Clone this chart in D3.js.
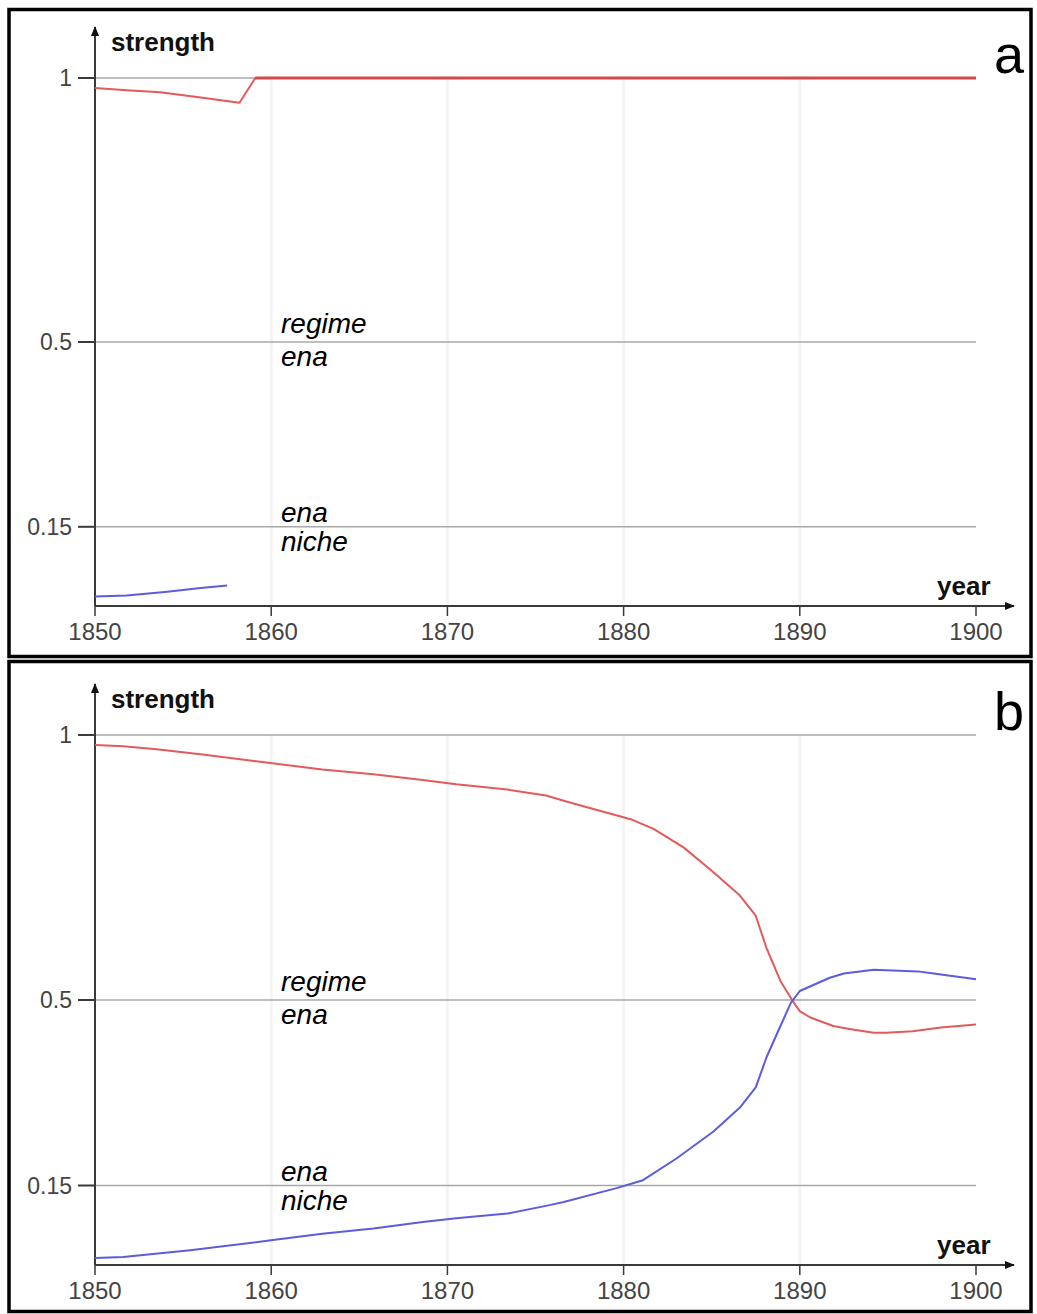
<!DOCTYPE html>
<html>
<head>
<meta charset="utf-8">
<script src="https://cdn.jsdelivr.net/npm/d3@7"></script>
<style>
  html, body { margin: 0; padding: 0; background: #fff; }
  svg { display: block; }
  text { font-family: "Liberation Sans", Arial, sans-serif; }
</style>
</head>
<body>
<script>
// ---------- data ----------
const xTicks = [1850, 1860, 1870, 1880, 1890, 1900];
const xGridYears = [1860, 1870, 1880, 1890];
const yTicks = [0.15, 0.5, 1];
const yTickLabels = ["0.15", "0.5", "1"];
const panelLetters = ["a", "b"];

// panel a
const aRegimeYears  = [1850, 1851.8, 1853.7, 1856.0, 1858.2, 1859.1, 1870, 1880, 1890, 1900];
const aRegimeValues = [0.981, 0.977, 0.973, 0.963, 0.953, 1.0, 1.0, 1.0, 1.0, 1.0];
const aNicheYears   = [1850, 1851.8, 1854.1, 1856.0, 1857.5];
const aNicheValues  = [0.018, 0.020, 0.027, 0.034, 0.039];

// panel b
const bRegimeYears  = [1850, 1851.6, 1853.5, 1856.1, 1859.5, 1862.9, 1865.8, 1868.6, 1870.5, 1873.4, 1875.6,
                       1876.8, 1880.5, 1881.7, 1883.4, 1885.1, 1886.6, 1887.5, 1888.1, 1888.9, 1889.6,
                       1890.0, 1890.6, 1891.9, 1892.9, 1894.2, 1894.9, 1896.4, 1898.0, 1900];
const bRegimeValues = [0.981, 0.979, 0.973, 0.963, 0.949, 0.935, 0.926, 0.915, 0.907, 0.897, 0.886,
                       0.874, 0.840, 0.823, 0.788, 0.741, 0.697, 0.659, 0.599, 0.536, 0.498,
                       0.479, 0.467, 0.451, 0.445, 0.438, 0.438, 0.441, 0.448, 0.454];
const bNicheYears   = [1850, 1851.6, 1855.4, 1860.1, 1862.9, 1865.8, 1868.6, 1870.5, 1873.4, 1875.8,
                       1876.6, 1879.6, 1881.1, 1883.0, 1885.1, 1886.6, 1887.5, 1888.1, 1888.9, 1889.5,
                       1890.0, 1891.7, 1892.5, 1894.2, 1896.7, 1897.6, 1900];
const bNicheValues  = [0.013, 0.015, 0.028, 0.047, 0.059, 0.069, 0.081, 0.088, 0.097, 0.113,
                       0.119, 0.145, 0.160, 0.201, 0.252, 0.297, 0.335, 0.391, 0.451, 0.495,
                       0.517, 0.542, 0.550, 0.557, 0.554, 0.550, 0.539];

// ---------- drawing ----------
const W = 1037, H = 1314;
const svg = d3.select("body").append("svg").attr("width", W).attr("height", H);

const RED = "#e35a5a", BLUE = "#5c5ce0";
const AX = "#3a3a3a";

const x = d3.scaleLinear().domain([1850, 1900]).range([95, 976]);

const panels = [
  { box: [9, 9.5, 1031, 656.5], y0: 606, y1: 78,
    regime: [aRegimeYears, aRegimeValues], niche: [aNicheYears, aNicheValues] },
  { box: [9, 661.5, 1031, 1311.5], y0: 1265, y1: 735,
    regime: [bRegimeYears, bRegimeValues], niche: [bNicheYears, bNicheValues] }
];

const defs = svg.append("defs");
defs.append("marker").attr("id", "arrow")
  .attr("viewBox", "0 0 10 10").attr("refX", 9).attr("refY", 5)
  .attr("markerWidth", 10).attr("markerHeight", 10).attr("markerUnits", "userSpaceOnUse")
  .attr("orient", "auto")
  .append("path").attr("d", "M0,1 L10,5 L0,9 Z").attr("fill", "#111");

panels.forEach((p, i) => {
  const g = svg.append("g");
  const y = d3.scaleLinear().domain([0, 1]).range([p.y0, p.y1]);

  // frame
  g.append("rect")
    .attr("x", p.box[0]).attr("y", p.box[1])
    .attr("width", p.box[2] - p.box[0]).attr("height", p.box[3] - p.box[1])
    .attr("fill", "#fff").attr("stroke", "#000").attr("stroke-width", 3.5);

  // faint vertical grid
  g.selectAll(".vgrid").data(xGridYears).enter().append("line")
    .attr("x1", d => x(d)).attr("x2", d => x(d))
    .attr("y1", y(1)).attr("y2", y(0))
    .attr("stroke", "#f4f4f4").attr("stroke-width", 3);

  // horizontal grid lines
  g.selectAll(".hgrid").data(yTicks).enter().append("line")
    .attr("x1", x(1850)).attr("x2", x(1900))
    .attr("y1", d => y(d)).attr("y2", d => y(d))
    .attr("stroke", "#a8a8a8").attr("stroke-width", 1.5);

  // y axis with arrow
  g.append("line").attr("x1", x(1850)).attr("x2", x(1850))
    .attr("y1", y(0)).attr("y2", y(1) - 51)
    .attr("stroke", AX).attr("stroke-width", 2).attr("marker-end", "url(#arrow)");
  // x axis with arrow
  g.append("line").attr("x1", x(1850)).attr("x2", x(1900) + 38)
    .attr("y1", y(0)).attr("y2", y(0))
    .attr("stroke", AX).attr("stroke-width", 2).attr("marker-end", "url(#arrow)");

  // y ticks
  g.selectAll(".ytick").data(yTicks).enter().append("line")
    .attr("x1", x(1850) - 17).attr("x2", x(1850))
    .attr("y1", d => y(d)).attr("y2", d => y(d))
    .attr("stroke", AX).attr("stroke-width", 2);
  g.selectAll(".ylab").data(yTicks).enter().append("text")
    .attr("x", 72).attr("y", d => y(d) + 8)
    .attr("text-anchor", "end").attr("font-size", 23).attr("fill", "#444")
    .text((d, k) => yTickLabels[k]);

  // x ticks
  g.selectAll(".xtick").data(xTicks).enter().append("line")
    .attr("x1", d => x(d)).attr("x2", d => x(d))
    .attr("y1", y(0)).attr("y2", y(0) + 10)
    .attr("stroke", AX).attr("stroke-width", 1.5);
  g.selectAll(".xlab").data(xTicks).enter().append("text")
    .attr("x", d => x(d)).attr("y", y(0) + 34)
    .attr("text-anchor", "middle").attr("font-size", 24).attr("fill", "#444")
    .text(d => d);

  // axis titles
  g.append("text").attr("x", 111).attr("y", y(1) - 27)
    .attr("font-size", 26).attr("font-weight", "bold").attr("fill", "#111")
    .text("strength");
  g.append("text").attr("x", 937).attr("y", y(0) - 11)
    .attr("font-size", 26).attr("font-weight", "bold").attr("fill", "#111")
    .text("year");
  g.append("text").attr("x", 1024).attr("y", y(1) - 5)
    .attr("text-anchor", "end").attr("font-size", 54).attr("fill", "#000")
    .text(panelLetters[i]);

  // italic annotations
  const it = (txt, yy) => g.append("text").attr("x", 281).attr("y", yy)
    .attr("font-size", 28).attr("font-style", "italic").attr("fill", "#000").text(txt);
  it("regime", y(0.5) - 9);
  it("ena", y(0.5) + 24);
  it("ena", y(0.15) - 5);
  it("niche", y(0.15) + 24);

  // lines
  const line = d3.line().x(d => x(d[0])).y(d => y(d[1]));
  const reg = d3.zip(p.regime[0], p.regime[1]);
  const nic = d3.zip(p.niche[0], p.niche[1]);
  g.append("path").datum(reg).attr("d", line)
    .attr("fill", "none").attr("stroke", RED).attr("stroke-width", 2).attr("stroke-linejoin", "round");
  // saturated part (value 1) drawn heavier
  const sat = reg.filter(d => d[1] >= 1);
  if (sat.length > 1) {
    g.append("path").datum(sat).attr("d", line)
      .attr("fill", "none").attr("stroke", "#d94848").attr("stroke-width", 3);
  }
  g.append("path").datum(nic).attr("d", line)
    .attr("fill", "none").attr("stroke", BLUE).attr("stroke-width", 2).attr("stroke-linejoin", "round");
});
</script>
</body>
</html>
